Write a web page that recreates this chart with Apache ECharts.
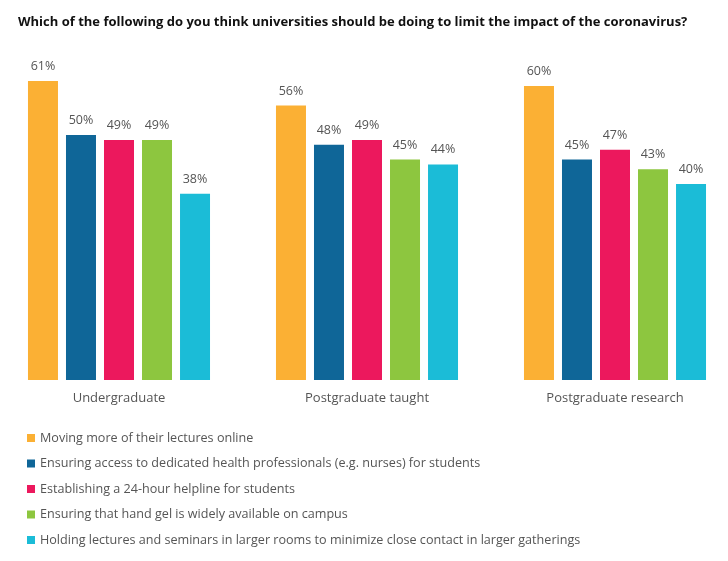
<!DOCTYPE html>
<html><head><meta charset="utf-8">
<script src="https://cdn.jsdelivr.net/npm/echarts@6/dist/echarts.min.js"></script>
<style>html,body{margin:0;padding:0;background:#fff}#c{width:728px;height:561px}</style>
</head><body><div id="c"></div>
<script>
const categories = ["Undergraduate", "Postgraduate taught", "Postgraduate research"];
const seriesNames = [
  "Moving more of their lectures online",
  "Ensuring access to dedicated health professionals (e.g. nurses) for students",
  "Establishing a 24-hour helpline for students",
  "Ensuring that hand gel is widely available on campus",
  "Holding lectures and seminars in larger rooms to minimize close contact in larger gatherings"
];
const lecturesOnline = [61, 56, 60];
const healthProfessionals = [50, 48, 45];
const helpline = [49, 49, 47];
const handGel = [49, 45, 43];
const largerRooms = [38, 44, 40];
const colors = ["#FBB034", "#0F6698", "#EC185D", "#8DC63F", "#1BBCD7"];
const values = [lecturesOnline, healthProfessionals, helpline, handGel, largerRooms];

const chart = echarts.init(document.getElementById('c'));
chart.setOption({
  backgroundColor: '#fff',
  animation: false,
  title: {
    text: 'Which of the following do you think universities should be doing to limit the impact of the coronavirus?',
    left: 13, top: 11,
    textStyle: { fontFamily: 'Open Sans', fontWeight: 'bold', fontSize: 13, color: '#111' }
  },
  legend: {
    orient: 'vertical', left: 22, top: 426,
    icon: 'rect', itemWidth: 8, itemHeight: 8, itemGap: 11.5,
    textStyle: { fontFamily: 'Open Sans', fontSize: 12.6, color: '#555', lineHeight: 14 },
    data: seriesNames
  },
  grid: { left: -5, width: 744, top: 37, bottom: 181, outerBoundsMode: 'none', containLabel: false },
  xAxis: {
    type: 'category', data: categories,
    axisLine: { show: false }, axisTick: { show: false },
    axisLabel: { fontFamily: 'Open Sans', fontSize: 13, color: '#555', margin: 12 }
  },
  yAxis: { type: 'value', min: 0, max: 70, show: false, splitLine: { show: false } },
  series: seriesNames.map((n, i) => ({
    name: n, type: 'bar', data: values[i], barWidth: 30, barGap: '26.7%',
    itemStyle: { color: colors[i] },
    label: { show: true, position: 'top', distance: 8, formatter: '{c}%',
      fontFamily: 'Open Sans', fontSize: 12.5, color: '#555' }
  }))
});
</script></body></html>
